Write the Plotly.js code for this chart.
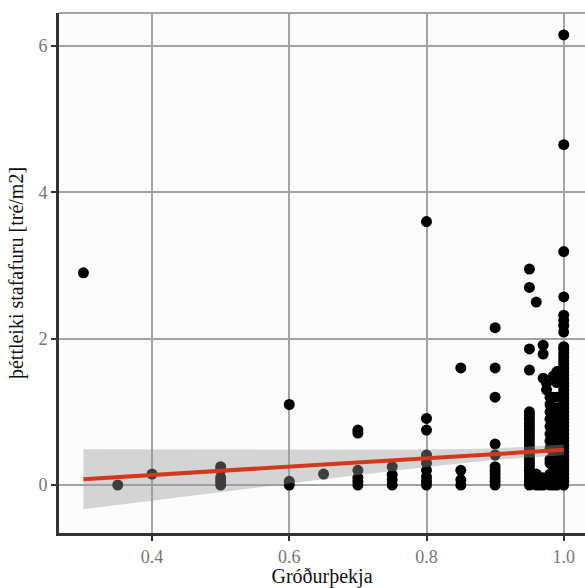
<!DOCTYPE html>
<html>
<head>
<meta charset="utf-8">
<script src="https://cdn.plot.ly/plotly-3.0.1.min.js"></script>
<style>html,body{margin:0;padding:0;background:#fff;}#chart{width:585px;height:588px;}</style>
</head>
<body>
<div id="chart"></div>
<script>
// Point data: each column of x values and its y values
const colX = [0.3, 0.35, 0.4, 0.5, 0.6, 0.65, 0.7, 0.75, 0.8, 0.85, 0.9, 0.95, 0.96, 0.965, 0.97, 0.975, 0.98, 0.985, 0.99, 1.0];
const colY = [
  [2.9],
  [0],
  [0.15],
  [0, 0.05, 0.1, 0.2, 0.25],
  [1.1, 0.05, 0],
  [0.15],
  [0.75, 0.71, 0.2, 0.1, 0.05, 0],
  [0.25, 0.14, 0.07, 0],
  [3.6, 0.91, 0.75, 0.41, 0.3, 0.2, 0.11, 0.05, 0],
  [1.6, 0.2, 0.07, 0],
  [2.15, 1.6, 1.2, 0.56, 0.41, 0.25, 0.2, 0.15, 0.1, 0.05, 0],
  [2.95, 2.7, 1.86, 1.57, 1.0, 0.95, 0.9, 0.85, 0.8, 0.75, 0.7, 0.65, 0.6, 0.55, 0.5, 0.45, 0.4, 0.35, 0.3, 0.25, 0.2, 0.15, 0.1, 0.05, 0],
  [2.5, 0.15, 0.1, 0.05, 0],
  [0.05, 0],
  [1.91, 1.79, 1.46, 0.1, 0.05, 0],
  [1.39, 1.3],
  [1.2, 1.1, 1.0, 0.9, 0.8, 0.7, 0.6, 0.5, 0.35, 0.3, 0.15, 0.1, 0.05, 0],
  [1.49, 1.2, 0.95, 0.85, 0.65, 0.55, 0.45, 0.25, 0.2, 0.1, 0],
  [1.55, 1.4, 1.2, 1.05, 0.9, 0.75, 0.6, 0.5, 0.4, 0.3, 0.2, 0.1, 0],
  [6.15, 4.65, 3.19, 2.57, 2.32, 2.25, 2.18, 2.09, 1.89, 1.85, 1.8, 1.75, 1.7, 1.65, 1.6, 1.55, 1.5, 1.45, 1.4, 1.35, 1.3, 1.25, 1.2, 1.15, 1.1, 1.05, 1.0, 0.95, 0.9, 0.85, 0.8, 0.75, 0.7, 0.65, 0.6, 0.55, 0.5, 0.45, 0.4, 0.35, 0.3, 0.25, 0.2, 0.15, 0.1, 0.05, 0]
];

// Fitted line and confidence band
const fitX = [0.3, 0.4, 0.5, 0.6, 0.7, 0.8, 0.9, 1.0];
const fitY = [0.08, 0.137, 0.195, 0.252, 0.309, 0.366, 0.423, 0.48];
const bandUpper = [0.49, 0.487, 0.485, 0.483, 0.483, 0.486, 0.50, 0.554];
const bandLower = [-0.33, -0.213, -0.095, 0.021, 0.135, 0.246, 0.344, 0.406];

const xTicks = [0.4, 0.6, 0.8, 1.0];
const xTickText = ['0.4', '0.6', '0.8', '1.0'];
const yTicks = [0, 2, 4, 6];
const yTickText = ['0', '2', '4', '6'];

const px = [], py = [];
colX.forEach((x, i) => colY[i].forEach(y => { px.push(x); py.push(y); }));

const serif = '"Liberation Serif", "DejaVu Serif", serif';

const traces = [
  {x: px, y: py, type: 'scatter', mode: 'markers',
   marker: {color: '#000', size: 11}, hoverinfo: 'skip', showlegend: false},
  {x: fitX.concat(fitX.slice().reverse()), y: bandUpper.concat(bandLower.slice().reverse()),
   type: 'scatter', mode: 'lines', fill: 'toself', fillcolor: 'rgba(153,153,153,0.4)',
   line: {width: 0, color: 'rgba(0,0,0,0)'}, hoverinfo: 'skip', showlegend: false},
  {x: fitX, y: fitY, type: 'scatter', mode: 'lines',
   line: {color: '#d0391b', width: 4}, hoverinfo: 'skip', showlegend: false}
];

const layout = {
  width: 585, height: 588,
  margin: {l: 59, r: 0, t: 13, b: 55},
  paper_bgcolor: '#fff', plot_bgcolor: '#fcfcfc',
  font: {family: serif, color: '#000'},
  showlegend: false,
  xaxis: {
    range: [0.2644, 1.031], tickvals: xTicks, ticktext: xTickText,
    showgrid: true, gridcolor: '#a3a3a3', gridwidth: 2, zeroline: false,
    showline: true, linecolor: '#333', linewidth: 3,
    ticks: 'outside', ticklen: 5, tickwidth: 2, tickcolor: '#333',
    tickfont: {family: serif, size: 18, color: '#777'},
    title: {text: 'Gróðurþekja', font: {family: serif, size: 20, color: '#111'}, standoff: 2}
  },
  yaxis: {
    range: [-0.656, 6.45], tickvals: yTicks, ticktext: yTickText,
    showgrid: true, gridcolor: '#a3a3a3', gridwidth: 2, zeroline: false,
    showline: true, linecolor: '#333', linewidth: 3,
    ticks: 'outside', ticklen: 5, tickwidth: 2, tickcolor: '#333',
    tickfont: {family: serif, size: 18, color: '#777'},
    title: {text: 'þéttleiki stafafuru [tré/m2]', font: {family: serif, size: 20, color: '#111'}, standoff: 10}
  },
  shapes: [
    {type: 'line', xref: 'paper', yref: 'paper', x0: 0, x1: 1, y0: 1, y1: 1,
     line: {color: '#a3a3a3', width: 2}}
  ]
};

Plotly.newPlot('chart', traces, layout, {displayModeBar: false, staticPlot: true});
</script>
</body>
</html>
